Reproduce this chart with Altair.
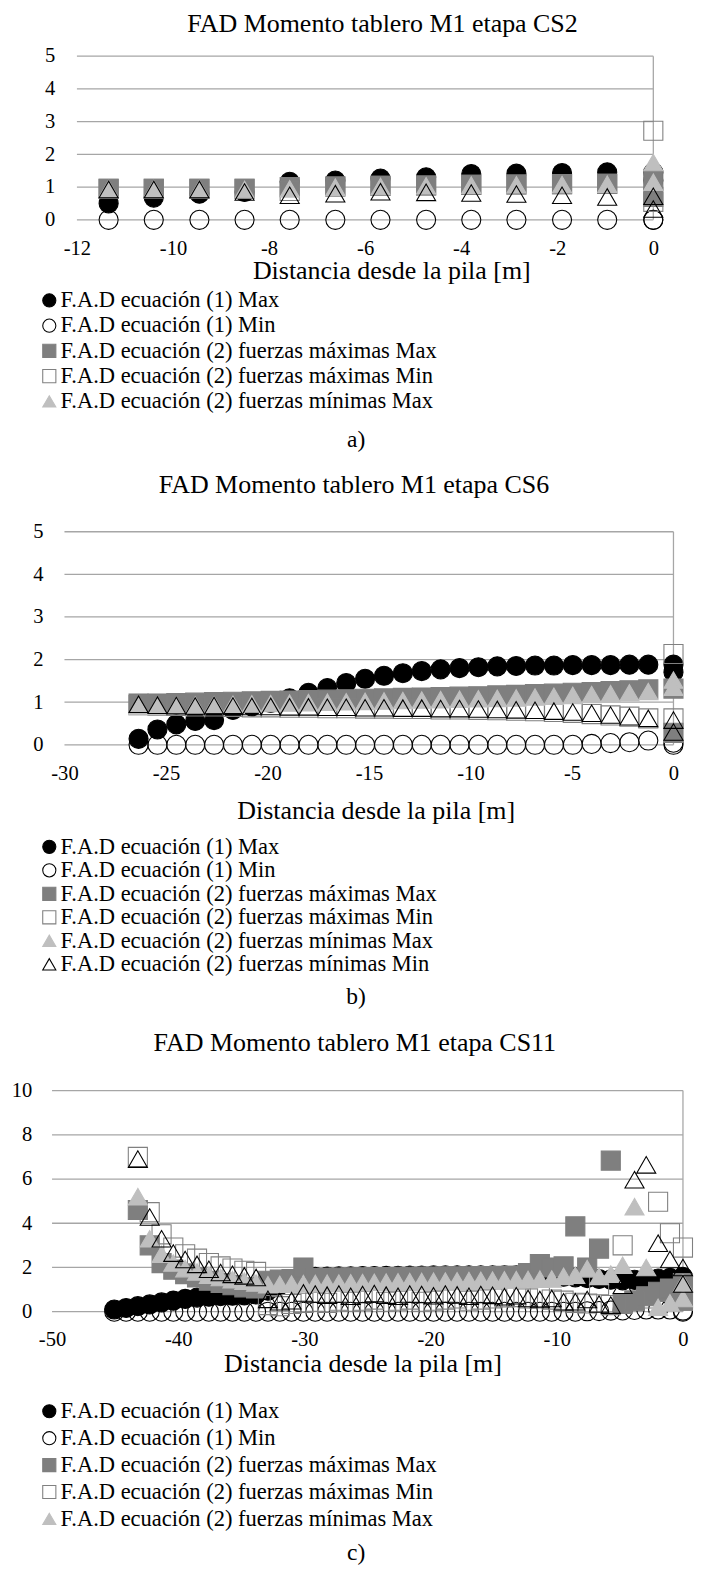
import altair as alt
import pandas as pd

FONT = "Liberation Serif"
GRID = "#a6a6a6"

SERIES = [
    "F.A.D ecuación (1) Max",
    "F.A.D ecuación (1) Min",
    "F.A.D ecuación (2) fuerzas máximas Max",
    "F.A.D ecuación (2) fuerzas máximas Min",
    "F.A.D ecuación (2) fuerzas mínimas Max",
    "F.A.D ecuación (2) fuerzas mínimas Min",
]
SHAPES = ["circle", "circle", "square", "square", "triangle-up", "triangle-up"]
FILLS = ["#000000", "transparent", "#7f7f7f", "transparent", "#bfbfbf", "transparent"]
STROKES = ["#000000", "#000000", "#7f7f7f", "#808080", "#bfbfbf", "#000000"]

# ---------------- panel a) CS2 ----------------
A_TITLE = "FAD Momento tablero M1 etapa CS2"
A_XTICKS = [-12, -10, -8, -6, -4, -2, 0]
A_YTICKS = [0, 1, 2, 3, 4, 5]
A_X = [-11.34, -10.40, -9.45, -8.51, -7.57, -6.62, -5.68, -4.73, -3.79, -2.85, -1.90, -0.96, 0.0, 0.0]
A_EC1_MAX = [0.50, 0.68, 0.80, 0.85, 1.16, 1.20, 1.26, 1.30, 1.40, 1.41, 1.43, 1.45, 1.45, 1.20]
A_EC1_MIN = [0.00, 0.00, 0.00, 0.00, 0.00, 0.00, 0.00, 0.00, 0.00, 0.00, 0.00, 0.00, 0.00, 0.00]
A_FMAX_MAX = [0.95, 0.95, 0.95, 0.95, 1.00, 1.02, 1.04, 1.05, 1.07, 1.08, 1.09, 1.10, 1.20, 0.70]
A_FMAX_MIN = [0.95, 0.95, 0.95, 0.95, 0.88, 1.02, 1.04, 1.05, 1.07, 1.08, 1.09, 1.10, 2.72, 0.55]
A_FMIN_MAX = [0.95, 0.95, 0.95, 0.93, 0.95, 1.00, 1.02, 1.04, 1.06, 1.07, 1.08, 1.09, 1.75, 1.15]
A_FMIN_MIN = [0.93, 0.93, 0.93, 0.85, 0.75, 0.80, 0.86, 0.84, 0.82, 0.79, 0.75, 0.70, 0.72, 0.33]

# ---------------- panel b) CS6 ----------------
B_TITLE = "FAD Momento tablero M1 etapa CS6"
B_XTICKS = [-30, -25, -20, -15, -10, -5, 0]
B_YTICKS = [0, 1, 2, 3, 4, 5]
B_X = [-26.35, -25.42, -24.49, -23.56, -22.63, -21.70, -20.77, -19.84, -18.91, -17.98,
       -17.05, -16.12, -15.19, -14.26, -13.33, -12.40, -11.47, -10.54, -9.61, -8.68,
       -7.75, -6.82, -5.89, -4.96, -4.03, -3.10, -2.17, -1.24, 0.0, 0.0]
B_EC1_MAX = [0.14, 0.36, 0.48, 0.56, 0.58, 0.82, 0.90, 0.98, 1.09, 1.22,
             1.33, 1.45, 1.55, 1.62, 1.68, 1.73, 1.77, 1.80, 1.82, 1.84,
             1.85, 1.86, 1.86, 1.87, 1.87, 1.87, 1.88, 1.88, 1.88, 1.70]
B_EC1_MIN = [0.00, 0.00, 0.00, 0.00, 0.00, 0.00, 0.00, 0.00, 0.00, 0.00,
             0.00, 0.00, 0.00, 0.00, 0.00, 0.00, 0.00, 0.00, 0.00, 0.00,
             0.00, 0.00, 0.00, 0.00, 0.02, 0.04, 0.06, 0.10, 0.05, 0.00]
B_FMAX_MAX = [0.97, 0.97, 0.98, 0.99, 1.00, 1.01, 1.02, 1.03, 1.04, 1.05,
              1.06, 1.07, 1.08, 1.09, 1.10, 1.11, 1.12, 1.13, 1.14, 1.16,
              1.17, 1.19, 1.20, 1.22, 1.24, 1.26, 1.28, 1.30, 1.32, 0.28]
B_FMAX_MIN = [0.93, 0.92, 0.91, 0.90, 0.90, 0.89, 0.88, 0.88, 0.87, 0.87,
              0.86, 0.86, 0.85, 0.85, 0.84, 0.84, 0.83, 0.83, 0.82, 0.81,
              0.80, 0.79, 0.77, 0.75, 0.72, 0.69, 0.66, 0.62, 2.13, 0.62]
B_FMIN_MAX = [0.90, 0.91, 0.92, 0.93, 0.94, 0.95, 0.96, 0.97, 0.98, 0.99,
              1.00, 1.01, 1.02, 1.03, 1.04, 1.05, 1.06, 1.07, 1.08, 1.09,
              1.10, 1.12, 1.14, 1.16, 1.18, 1.20, 1.22, 1.25, 1.52, 1.35]
B_FMIN_MIN = [0.95, 0.93, 0.92, 0.91, 0.92, 0.91, 0.90, 0.90, 0.89, 0.89,
              0.88, 0.88, 0.87, 0.87, 0.86, 0.86, 0.85, 0.85, 0.84, 0.83,
              0.82, 0.81, 0.79, 0.77, 0.74, 0.70, 0.66, 0.62, 0.58, 0.30]

# ---------------- panel c) CS11 ----------------
C_TITLE = "FAD Momento tablero M1 etapa CS11"
C_XTICKS = [-50, -40, -30, -20, -10, 0]
C_YTICKS = [0, 2, 4, 6, 8, 10]
C_X = [-45.07, -44.13, -43.20, -42.26, -41.32, -40.39, -39.45, -38.51, -37.57, -36.64,
       -35.70, -34.76, -33.83, -32.89, -31.95, -31.02, -30.08, -29.14, -28.20, -27.27,
       -26.33, -25.39, -24.46, -23.52, -22.58, -21.65, -20.71, -19.77, -18.83, -17.90,
       -16.96, -16.02, -15.09, -14.15, -13.21, -12.28, -11.34, -10.40, -9.46, -8.53,
       -7.59, -6.65, -5.72, -4.78, -3.84, -2.91, -1.97, -1.03, 0.0, 0.0]
C_EC1_MAX = [0.10, 0.17, 0.25, 0.33, 0.42, 0.50, 0.58, 0.64, 0.68, 0.70,
             0.72, 0.74, 0.78, 0.95, 1.20, 1.45, 1.56, 1.58, 1.59, 1.60,
             1.60, 1.61, 1.61, 1.62, 1.62, 1.63, 1.63, 1.64, 1.64, 1.65,
             1.65, 1.65, 1.65, 1.65, 1.64, 1.63, 1.62, 1.60, 1.58, 1.55,
             1.52, 1.48, 1.45, 1.42, 1.44, 1.47, 1.50, 1.53, 1.58, 1.45]
C_EC1_MIN = [0.00, 0.00, 0.00, 0.00, 0.00, 0.00, 0.00, 0.00, 0.00, 0.00,
             0.00, 0.00, 0.00, 0.00, 0.00, 0.00, 0.00, 0.00, 0.00, 0.00,
             0.00, 0.00, 0.00, 0.00, 0.00, 0.00, 0.00, 0.00, 0.00, 0.00,
             0.00, 0.00, 0.00, 0.00, 0.00, 0.00, 0.00, 0.00, 0.00, 0.00,
             0.02, 0.03, 0.05, 0.06, 0.08, 0.10, 0.10, 0.10, 0.05, 0.00]
C_FMAX_MAX = [None, None, 4.60, 3.00, 2.20, 1.90, 1.70, 1.55, 1.40, 1.30,
              1.20, 1.10, 1.05, 1.40, 1.45, 1.48, 2.00, 1.52, 1.53, 1.54,
              1.55, 1.56, 1.57, 1.57, 1.58, 1.58, 1.59, 1.59, 1.60, 1.60,
              1.60, 1.61, 1.61, 1.62, 1.62, 1.75, 2.15, 2.00, 2.05, 3.86,
              2.00, 2.85, 6.83, 0.35, 0.50, 0.70, 0.90, 1.05, 1.30, 0.50]
C_FMAX_MIN = [None, None, 7.00, 4.50, 3.50, 2.90, 2.60, 2.40, 2.20, 2.05,
              1.95, 1.85, 1.80, 0.30, 0.25, 0.35, 0.40, 0.45, 0.40, 0.50,
              0.45, 0.50, 0.55, 0.45, 0.50, 0.55, 0.45, 0.50, 0.55, 0.60,
              0.50, 0.55, 0.60, 0.65, 0.66, 0.60, 0.66, 0.55, 0.50, 0.40,
              0.37, 1.20, 0.30, 3.00, 0.50, 0.60, 4.97, 3.55, 2.90, 0.50]
C_FMIN_MAX = [None, None, 5.20, 3.30, 2.60, 2.20, 1.95, 1.80, 1.65, 1.55,
              1.45, 1.38, 1.30, 1.22, 1.24, 1.25, 1.27, 1.28, 1.29, 1.30,
              1.31, 1.32, 1.33, 1.34, 1.35, 1.36, 1.37, 1.38, 1.39, 1.40,
              1.41, 1.42, 1.43, 1.44, 1.45, 1.46, 1.47, 1.48, 1.60, 1.65,
              1.95, 1.60, 1.70, 2.10, 4.75, 2.00, 0.20, 0.40, 1.30, 0.60]
C_FMIN_MIN = [None, None, 6.90, 4.28, 3.30, 2.65, 2.36, 2.14, 1.92, 1.77,
              1.69, 1.62, 1.55, 0.56, 0.45, 0.50, 0.85, 0.80, 0.75, 0.80,
              0.70, 0.78, 0.82, 0.75, 0.70, 0.80, 0.78, 0.72, 0.80, 0.76,
              0.70, 0.78, 0.74, 0.68, 0.72, 0.60, 0.55, 0.60, 0.45, 0.45,
              0.55, 0.35, 0.30, 1.20, 5.97, 6.64, 3.10, 2.36, 2.00, 1.25]

AXIS_TITLE = "Distancia desde la pila [m]"


def build_df(xs, series_vals):
    rows = []
    for si, (name, ys) in enumerate(zip(SERIES, series_vals)):
        for x, y in zip(xs, ys):
            if y is None:
                continue
            rows.append({"x": x, "y": y, "series": name, "order": si})
    return pd.DataFrame(rows)


def panel(title, xs, series_vals, xticks, yticks, xdomain, width, height,
          y_offset, y_labelpad, title_dx, title_offset, axis_title_x, axis_title_y,
          legend_y, legend_rowpad, legend_values):
    xe = alt.X(
        "x:Q",
        scale=alt.Scale(domain=xdomain, nice=False, zero=False),
        axis=alt.Axis(
            values=xticks, labelExpr="'' + datum.value", grid=False, domain=False,
            ticks=False, tickSize=0, labelFont=FONT, labelFontSize=21, labelColor="black",
            labelPadding=29, labelBaseline="middle", labelFlush=False, labelOverlap=False,
            title=AXIS_TITLE, titleFont=FONT, titleFontSize=26.5, titleFontWeight="normal",
            titleColor="black", titleX=axis_title_x, titleY=axis_title_y,
            titleAlign="center", titleBaseline="middle",
        ),
    )
    ye = alt.Y(
        "y:Q",
        scale=alt.Scale(domain=[yticks[0], yticks[-1]], nice=False, zero=False),
        axis=alt.Axis(
            values=yticks, grid=False, domain=False, ticks=False, tickSize=0,
            labelFont=FONT, labelFontSize=21, labelColor="black", labelPadding=y_labelpad,
            labelFlush=False, labelOverlap=False, offset=y_offset, title=None,
        ),
    )
    grid_df = pd.DataFrame({"y": yticks, "x": [xticks[0]] * len(yticks),
                            "x2": [xticks[-1]] * len(yticks)})
    vline_df = pd.DataFrame({"x": [xticks[-1]], "y": [yticks[0]], "y2": [yticks[-1]]})
    grid = alt.Chart(grid_df).mark_rule(color=GRID, strokeWidth=1.3).encode(
        x=xe, x2="x2:Q", y=ye)
    vline = alt.Chart(vline_df).mark_rule(color=GRID, strokeWidth=1.3).encode(
        x=xe, y=ye, y2="y2:Q")

    leg = alt.Legend(
        title=None, orient="none", legendX=-14.3, legendY=legend_y,
        direction="vertical", labelFont=FONT, labelFontSize=23, labelColor="black",
        labelLimit=1000, symbolSize=180, symbolStrokeWidth=1.1, rowPadding=legend_rowpad,
        labelOffset=0, padding=0, values=legend_values,
    )
    df = build_df(xs, series_vals)
    pts = alt.Chart(df).mark_point(filled=True, opacity=1, strokeWidth=1.1, size=380).encode(
        x=xe, y=ye,
        shape=alt.Shape("series:N", scale=alt.Scale(domain=SERIES, range=SHAPES), legend=leg),
        fill=alt.Fill("series:N", scale=alt.Scale(domain=SERIES, range=FILLS), legend=leg),
        stroke=alt.Stroke("series:N", scale=alt.Scale(domain=SERIES, range=STROKES), legend=leg),
        order=alt.Order("order:Q"),
    )
    return alt.layer(grid, vline, pts).properties(
        width=width, height=height,
        title=alt.TitleParams(
            title, font=FONT, fontSize=26.5, fontWeight="normal", color="black",
            anchor="middle", frame="group", dx=title_dx, offset=title_offset,
            baseline="alphabetic",
        ),
    )


def caption(text, cx, cy, height):
    return alt.Chart(pd.DataFrame({"t": [text]})).mark_text(
        font=FONT, fontSize=24, color="black", align="center", baseline="middle"
    ).encode(text="t:N", x=alt.value(cx), y=alt.value(cy)).properties(width=600, height=height)


FIVE = SERIES[:5]

pa = panel(A_TITLE, A_X, [A_EC1_MAX, A_EC1_MIN, A_FMAX_MAX, A_FMAX_MIN, A_FMIN_MAX, A_FMIN_MIN],
           A_XTICKS, A_YTICKS, [-12.518, 0], 614.4, 167.3,
           y_offset=-25.4, y_labelpad=22.7, title_dx=30.5, title_offset=-13.1,
           axis_title_x=346.7, axis_title_y=52,
           legend_y=238.1, legend_rowpad=1.8, legend_values=FIVE)
pb = panel(B_TITLE, B_X, [B_EC1_MAX, B_EC1_MIN, B_FMAX_MAX, B_FMAX_MIN, B_FMIN_MAX, B_FMIN_MIN],
           B_XTICKS, B_YTICKS, [-30.612, 0], 635.0, 217.7,
           y_offset=-12.7, y_labelpad=22, title_dx=-9, title_offset=1.9,
           axis_title_x=330.7, axis_title_y=67,
           legend_y=310.5, legend_rowpad=-0.4, legend_values=SERIES)
pc = panel(C_TITLE, C_X, [C_EC1_MAX, C_EC1_MIN, C_FMAX_MAX, C_FMAX_MIN, C_FMIN_MAX, C_FMIN_MIN],
           C_XTICKS, C_YTICKS, [-50, 0], 644.7, 226.0,
           y_offset=0, y_labelpad=20.6, title_dx=-13, title_offset=2.6,
           axis_title_x=317.2, axis_title_y=53,
           legend_y=316.2, legend_rowpad=3.5, legend_values=FIVE)

ca = caption("a)", 310.7, 224, 317.3)
cb = caption("b)", 310.7, 257.3, 353)
cc = caption("c)", 310.7, 246.7, 250)

chart = alt.vconcat(pa, ca, pb, cb, pc, cc, spacing=0, bounds="flush").resolve_scale(
    x="independent", y="independent", shape="independent", fill="independent",
    stroke="independent",
).resolve_axis(x="independent", y="independent").resolve_legend(
    shape="independent", fill="independent", stroke="independent",
).properties(
    padding={"left": 3, "top": -14, "right": 0, "bottom": 0}
).configure_view(stroke=None)

chart.save("out.html", embed_options={"renderer": "svg", "actions": False})
